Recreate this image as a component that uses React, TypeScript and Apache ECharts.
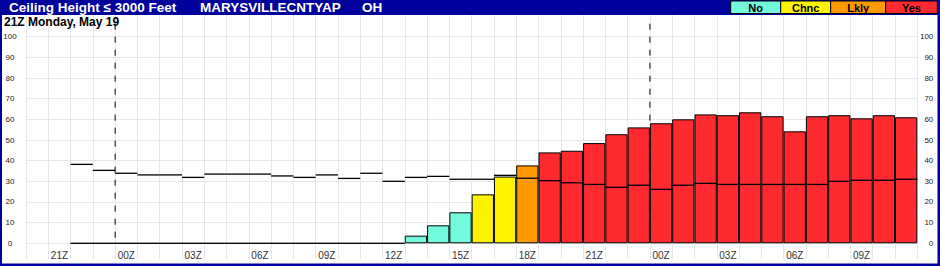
import React, { useEffect, useRef } from "react";
import * as echarts from "echarts";

const titleText = "Ceiling Height ≤ 3000 Feet";
const stationText = "MARYSVILLECNTYAP";
const stateText = "OH";
const dateText = "21Z Monday, May 19";

const hours = [
  "20Z", "21Z", "22Z", "23Z", "00Z", "01Z", "02Z", "03Z", "04Z", "05Z",
  "06Z", "07Z", "08Z", "09Z", "10Z", "11Z", "12Z", "13Z", "14Z", "15Z",
  "16Z", "17Z", "18Z", "19Z", "20Z", "21Z", "22Z", "23Z", "00Z", "01Z",
  "02Z", "03Z", "04Z", "05Z", "06Z", "07Z", "08Z", "09Z", "10Z", "11Z",
];

// probability bars (null = no data)
const barValues: (number | null)[] = [
  null, null, 0, 0, 0, 0, 0, 0, 0, 0,
  0, 0, 0, 0, 0, 0, 0, 3.7, 8.7, 15.0,
  23.7, 32.3, 37.7, 44.0, 44.8, 48.5, 52.8, 56.1, 58.1, 60.0,
  62.4, 62.0, 63.4, 61.5, 54.2, 61.5, 62.0, 60.5, 62.0, 61.0,
];

const barCategory: (string | null)[] = [
  null, null, "No", "No", "No", "No", "No", "No", "No", "No",
  "No", "No", "No", "No", "No", "No", "No", "No", "No", "No",
  "Chnc", "Chnc", "Lkly", "Yes", "Yes", "Yes", "Yes", "Yes", "Yes", "Yes",
  "Yes", "Yes", "Yes", "Yes", "Yes", "Yes", "Yes", "Yes", "Yes", "Yes",
];

// reference (step) values drawn as horizontal segments
const stepValues: (number | null)[] = [
  null, null, 38.2, 35.3, 33.9, 33.1, 33.1, 31.9, 33.5, 33.5,
  33.5, 32.6, 31.9, 33.1, 31.4, 33.9, 30.0, 31.9, 32.4, 31.0,
  31.0, 32.9, 31.5, 30.3, 29.3, 28.5, 27.1, 28.1, 26.1, 28.1,
  29.0, 28.5, 28.5, 28.5, 28.5, 28.5, 30.0, 30.5, 30.5, 31.0,
];

const dayBreaks = [4, 28];

const legendLabels = ["No", "Chnc", "Lkly", "Yes"];

const categoryColors: Record<string, string> = {
  No: "#73FADC",
  Chnc: "#FFF200",
  Lkly: "#FF9900",
  Yes: "#FF2A2F",
};

const FONT = '"Liberation Sans", Arial, sans-serif';
const BLUE = "#00009C";

export default function App() {
  const ref = useRef<HTMLDivElement>(null);

  useEffect(() => {
    document.body.style.margin = "0";
    if (!ref.current) return;
    const chart = echarts.init(ref.current, null, { renderer: "svg" });

    const barData = barValues.map((v, i) => {
      if (v === null) return null;
      const cat = barCategory[i] || "No";
      return {
        value: v,
        itemStyle: {
          color: v === 0 ? "#ffffff" : categoryColors[cat],
          borderColor: "#000",
          borderWidth: 1,
        },
      };
    });

    const stepData: [number, number][] = [];
    stepValues.forEach((v, i) => {
      if (v !== null) stepData.push([i, v]);
    });

    const legendX = [730.7, 780.7, 830.7, 885.7, 937.3];
    const legendEls: any[] = [];
    legendLabels.forEach((lab, i) => {
      const x0 = legendX[i];
      const w = legendX[i + 1] - x0;
      legendEls.push({
        type: "rect",
        z: 110,
        shape: { x: x0, y: 1, width: w, height: 12.5 },
        style: { fill: categoryColors[lab], stroke: "#000", lineWidth: 1 },
      });
      legendEls.push({
        type: "text",
        z: 111,
        x: x0 + w / 2,
        y: 7.5,
        style: {
          text: lab,
          fill: "#000",
          font: `bold 11px ${FONT}`,
          textAlign: "center",
          textVerticalAlign: "middle",
          align: "center",
          verticalAlign: "middle",
        },
      });
    });

    const titleStyle = (text: string) => ({
      text,
      fill: "#fff",
      font: `bold 13.5px ${FONT}`,
      textAlign: "left",
      textVerticalAlign: "middle",
      align: "left",
      verticalAlign: "middle",
    });

    const option: any = {
      animation: false,
      backgroundColor: "#ffffff",
      textStyle: { fontFamily: FONT },
      grid: [
        { left: 26, right: 22.7, top: 36.7, bottom: 22.7 },
        { left: 26, right: 22.7, top: 15, bottom: 7 },
      ],
      xAxis: [
        {
          gridIndex: 0,
          type: "category",
          data: hours,
          boundaryGap: true,
          axisLine: { show: false },
          axisTick: { show: false },
          splitLine: { show: false },
          axisLabel: {
            interval: (i: number) => i % 3 === 1,
            fontSize: 10,
            color: "#333",
            margin: 7,
            fontFamily: FONT,
          },
        },
        {
          gridIndex: 1,
          type: "category",
          data: hours,
          boundaryGap: true,
          axisLine: { show: false },
          axisTick: { show: false },
          axisLabel: { show: false },
          splitLine: { show: true, interval: 0, lineStyle: { color: "#e6e6e6", width: 1 } },
        },
      ],
      yAxis: [
        {
          gridIndex: 0,
          type: "value",
          min: 0,
          max: 100,
          interval: 10,
          position: "left",
          axisLine: { show: false },
          axisTick: { show: false },
          axisLabel: { fontSize: 8, color: "#222", align: "center", margin: 16, fontFamily: FONT },
          splitLine: { show: true, lineStyle: { color: "#e6e6e6", width: 1 } },
        },
        {
          gridIndex: 0,
          type: "value",
          min: 0,
          max: 100,
          interval: 10,
          position: "right",
          axisLine: { show: false },
          axisTick: { show: false },
          axisLabel: { fontSize: 8, color: "#222", align: "right", margin: 16, fontFamily: FONT },
          splitLine: { show: false },
        },
        { gridIndex: 1, type: "value", show: false, min: 0, max: 1 },
      ],
      series: [
        {
          type: "bar",
          xAxisIndex: 0,
          yAxisIndex: 0,
          data: barData,
          barCategoryGap: "0%",
          barGap: "0%",
          z: 2,
        },
        {
          type: "custom",
          xAxisIndex: 0,
          yAxisIndex: 0,
          data: stepData,
          z: 3,
          renderItem: (params: any, api: any) => {
            const p = api.coord([api.value(0), api.value(1)]);
            const w = api.size([1, 0])[0];
            return {
              type: "line",
              shape: { x1: p[0] - w / 2, y1: p[1], x2: p[0] + w / 2, y2: p[1] },
              style: { stroke: "#000", lineWidth: 1.3 },
            };
          },
        },
        {
          type: "custom",
          xAxisIndex: 0,
          yAxisIndex: 0,
          data: dayBreaks.map((d) => [d, 0]),
          z: 4,
          clip: false,
          renderItem: (params: any, api: any) => {
            const p0 = api.coord([api.value(0), 0]);
            const p100 = api.coord([api.value(0), 100]);
            const w = api.size([1, 0])[0];
            const x = p0[0] - w / 2;
            return {
              type: "line",
              shape: { x1: x, y1: p100[1] - 13, x2: x, y2: p0[1] },
              style: { stroke: "#000", lineWidth: 1, lineDash: [6, 7] },
            };
          },
        },
      ],
      graphic: [
        { type: "rect", z: 100, shape: { x: 0, y: 0, width: 940, height: 15 }, style: { fill: BLUE } },
        { type: "rect", z: 100, shape: { x: 0, y: 0, width: 2, height: 266 }, style: { fill: BLUE } },
        { type: "rect", z: 100, shape: { x: 937.5, y: 0, width: 2.5, height: 266 }, style: { fill: BLUE } },
        { type: "rect", z: 100, shape: { x: 0, y: 263.5, width: 940, height: 2.5 }, style: { fill: BLUE } },
        { type: "text", z: 101, x: 9, y: 7.5, style: titleStyle(titleText) },
        { type: "text", z: 101, x: 200, y: 7.5, style: titleStyle(stationText) },
        { type: "text", z: 101, x: 362, y: 7.5, style: titleStyle(stateText) },
        {
          type: "text",
          z: 101,
          x: 4,
          y: 21.5,
          style: {
            text: dateText,
            fill: "#000",
            font: `bold 12px ${FONT}`,
            textAlign: "left",
            textVerticalAlign: "middle",
            align: "left",
            verticalAlign: "middle",
          },
        },
        ...legendEls,
      ],
    };

    chart.setOption(option);
    return () => chart.dispose();
  }, []);

  return <div ref={ref} style={{ width: 940, height: 266 }} />;
}
